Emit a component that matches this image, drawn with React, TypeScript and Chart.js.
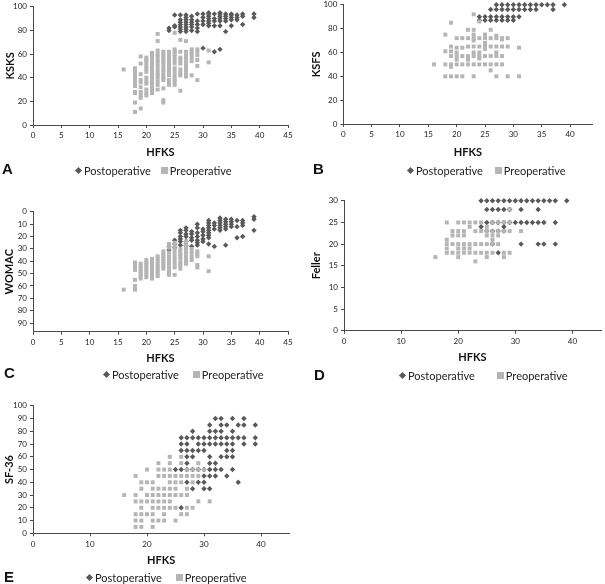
import React, { useEffect, useRef } from 'react';
import { Chart, registerables } from 'chart.js';

Chart.register(...registerables);

type Col = [number, number[]];

// ---------- DATA (HFKS x-value, list of y-values) ----------
const ksksPost: Col[] = [
  [24, [80, 82]],
  [25, [83, 84, 93]],
  [26, [79, 81, 83, 85, 87, 89, 93]],
  [27, [79, 81, 83, 85, 87, 89, 91, 93]],
  [28, [80, 83, 85, 87, 89, 92]],
  [29, [79, 82, 85, 88, 94]],
  [30, [65, 85, 88, 91, 94]],
  [31, [84, 86, 88, 90, 92, 94, 95]],
  [32, [62, 84, 88, 90, 94]],
  [33, [64, 84, 88, 90, 92, 94, 95]],
  [34, [79, 88, 90, 92, 94]],
  [35, [84, 89, 91, 93, 94]],
  [36, [89, 91, 93]],
  [37, [85, 92, 94]],
  [39, [91, 94]],
];
const ksksPre: Col[] = [
  [16, [47]],
  [18, [11, 19, 27, 28, 33, 35, 38, 40, 42, 44, 46, 48]],
  [19, [14, 23, 25, 28, 32, 36, 38, 43, 52, 58]],
  [20, [25, 27, 30, 35, 37, 40, 45, 48, 50, 53, 55, 57]],
  [21, [27, 29, 32, 35, 37, 40, 42, 45, 48, 50, 52, 55, 57, 59, 61]],
  [22, [30, 34, 37, 40, 42, 44, 47, 50, 53, 55, 58, 60, 63, 71, 77]],
  [23, [19, 21, 31, 38, 40, 42, 45, 47, 49, 52, 54, 56, 58, 60, 62]],
  [24, [34, 36, 38, 42, 45, 48, 50, 52, 55, 57, 60, 62]],
  [25, [34, 37, 39, 42, 45, 48, 52, 55, 58, 60, 62, 64, 78]],
  [26, [29, 42, 44, 47, 52, 55, 57, 62, 72]],
  [27, [41, 43, 46, 48, 50, 53, 56, 59, 62, 71]],
  [28, [42, 54, 57, 60, 62, 64]],
  [29, [38, 50, 55, 59, 62, 64]],
  [31, [53, 63]],
];

const ksfsPost: Col[] = [
  [24, [87, 90]],
  [25, [87, 90]],
  [26, [87, 90, 96]],
  [27, [87, 90, 96, 100]],
  [28, [87, 90, 96, 100]],
  [29, [87, 90, 96, 100]],
  [30, [87, 90, 96, 100]],
  [31, [90, 96, 100]],
  [32, [96, 100]],
  [33, [96, 100]],
  [34, [96, 100]],
  [35, [100]],
  [36, [100]],
  [37, [96, 100]],
  [39, [100]],
];
const ksfsPre: Col[] = [
  [16, [50]],
  [18, [40, 50, 61, 75]],
  [19, [40, 48, 50, 57, 61, 65, 85]],
  [20, [40, 50, 54, 57, 60, 64, 72]],
  [21, [40, 50, 57, 64, 72]],
  [22, [50, 54, 57, 65, 72, 79]],
  [23, [40, 50, 57, 60, 65, 70, 72, 75, 79, 92]],
  [24, [50, 55, 57, 60, 65, 72, 86]],
  [25, [50, 57, 63, 65, 68, 72, 75]],
  [26, [45, 50, 57, 65, 72, 79]],
  [27, [40, 50, 57, 60, 65, 72, 74]],
  [28, [50, 57, 65, 71, 72]],
  [29, [40, 65, 72]],
  [31, [40, 64]],
];

const womacPost: Col[] = [
  [24, [28, 31]],
  [25, [23, 26, 29]],
  [26, [15, 17, 20, 22, 24, 27]],
  [27, [13, 15, 18, 20, 24, 27]],
  [28, [16, 18, 21, 23, 28]],
  [29, [10, 13, 17, 20, 23, 25, 27]],
  [30, [14, 16, 19, 22, 24]],
  [31, [7, 9, 11, 13, 15, 17, 19, 21, 26]],
  [32, [9, 11, 14, 28]],
  [33, [5, 7, 9, 11, 13, 15]],
  [34, [6, 8, 10, 12, 14, 27]],
  [35, [6, 8, 10, 12]],
  [36, [7, 12, 21]],
  [37, [7, 9, 11, 20]],
  [39, [4, 6, 15]],
];
const womacPre: Col[] = [
  [16, [63]],
  [18, [41, 43, 45, 47, 55, 60, 63]],
  [19, [42, 44, 46, 48, 50, 52, 54]],
  [20, [39, 41, 43, 45, 47, 49, 51, 53]],
  [21, [38, 40, 42, 44, 46, 48, 50, 52, 54]],
  [22, [36, 38, 40, 42, 44, 46, 48, 50, 52]],
  [23, [32, 34, 36, 38, 40, 42, 44, 46]],
  [24, [26, 29, 33, 36, 39, 42, 45, 48, 51]],
  [25, [25, 27, 30, 33, 36, 39, 42, 45, 51]],
  [26, [30, 32, 34, 36, 38, 41, 43, 46]],
  [27, [24, 27, 30, 33, 36, 39, 42]],
  [28, [30, 33, 36, 39]],
  [29, [32, 34, 36, 43, 45]],
  [31, [36, 48]],
];

const fellerPost: Col[] = [
  [24, [24, 30]],
  [25, [23, 25, 28, 30]],
  [26, [20, 23, 25, 28, 30]],
  [27, [18, 23, 25, 28, 30]],
  [28, [23, 24, 25, 28, 30]],
  [29, [25, 28, 30]],
  [30, [25, 30]],
  [31, [20, 25, 28, 30]],
  [32, [25, 30]],
  [33, [25, 30]],
  [34, [20, 25, 28, 30]],
  [35, [20, 25, 30]],
  [36, [30]],
  [37, [20, 25, 30]],
  [39, [30]],
];
const fellerPre: Col[] = [
  [16, [17]],
  [18, [18, 19, 20, 21, 25]],
  [19, [18, 20, 22, 23]],
  [20, [17, 18, 19, 20, 22, 23, 25]],
  [21, [18, 19, 20, 22, 23, 25]],
  [22, [18, 19, 20, 24, 25]],
  [23, [16, 18, 20, 23, 25]],
  [24, [18, 20, 23, 25]],
  [25, [17, 18, 20, 22, 23, 24]],
  [26, [18, 20, 21, 22, 23, 25]],
  [27, [20, 22, 23, 25]],
  [28, [17, 18, 23, 25]],
  [29, [18, 23, 25, 28]],
  [31, [23]],
];

const sf36Post: Col[] = [
  [25, [50]],
  [26, [20, 50, 65, 70, 75]],
  [27, [40, 50, 55, 60, 65, 70, 75]],
  [28, [35, 50, 60, 65, 75, 80]],
  [29, [40, 50, 65, 70, 75]],
  [30, [35, 40, 45, 50, 65, 70, 75]],
  [31, [35, 45, 50, 55, 60, 70, 75, 80, 85]],
  [32, [45, 50, 55, 70, 75, 80, 90]],
  [33, [50, 60, 70, 75, 80, 85, 90]],
  [34, [45, 60, 65, 70, 75, 85]],
  [35, [50, 60, 65, 70, 75, 80, 90]],
  [36, [40, 75, 85]],
  [37, [70, 75, 85, 90]],
  [39, [70, 75, 85]],
];
const sf36Pre: Col[] = [
  [16, [30]],
  [18, [5, 10, 15, 25, 30, 45]],
  [19, [5, 10, 15, 20, 25, 35, 40]],
  [20, [15, 25, 30, 40, 50]],
  [21, [5, 10, 15, 20, 25, 30, 35, 40]],
  [22, [10, 20, 25, 30, 35, 45, 50, 55]],
  [23, [10, 15, 20, 25, 30, 35, 45, 50]],
  [24, [20, 25, 30, 35, 40, 45, 50, 55, 60]],
  [25, [10, 20, 30, 35, 40, 45]],
  [26, [15, 30, 40, 45, 55, 60]],
  [27, [15, 20, 30, 35, 45, 50]],
  [28, [20, 40, 45, 50]],
  [29, [25, 45, 50, 55]],
  [30, [50]],
  [31, [25]],
];

const seriesNames = ['Postoperative', 'Preoperative'];
const panelLetters = ['A', 'B', 'C', 'D', 'E'];
const yTitles = ['KSKS', 'KSFS', 'WOMAC', 'Feller', 'SF-36'];
const xTitle = 'HFKS';
// axis ranges
const xMaxes = [45, 44, 45, 45, 45];
const xSteps = [5, 5, 5, 10, 10];
const yMaxes = [100, 100, 97, 30, 100];
const ySteps = [10, 10, 10, 5, 10];

// ---------- STYLE / LAYOUT ----------
const POST_COLOR = '#595959';
const PRE_COLOR = '#b5b5b5';
const AXIS_COLOR = '#4a4a4a';
const FONT = 'Lato, "Open Sans", "Liberation Sans", sans-serif';

type Layout = {
  area: { l: number; t: number; r: number; b: number };
  yTitleX: number;
  xTitleY: number;
  right: number;
  legend: { x: number; y: number; gap: number };
  letter: { x: number; y: number };
};

const layouts: Layout[] = [
  { area: { l: 33, t: 5, r: 288, b: 125 }, yTitleX: 11, xTitleY: 152, right: 300,
    legend: { x: 76, y: 170, gap: 10 }, letter: { x: 2, y: 169 } },
  { area: { l: 343.3, t: 3.3, r: 592.7, b: 124 }, yTitleX: 317, xTitleY: 152, right: 605,
    legend: { x: 408, y: 170, gap: 12 }, letter: { x: 313, y: 169 } },
  { area: { l: 33, t: 210, r: 288, b: 331.7 }, yTitleX: 10, xTitleY: 358, right: 300,
    legend: { x: 104, y: 374, gap: 14 }, letter: { x: 4, y: 373 } },
  { area: { l: 344, t: 199.3, r: 603, b: 330.7 }, yTitleX: 317, xTitleY: 357, right: 605,
    legend: { x: 400, y: 375, gap: 22 }, letter: { x: 314, y: 375 } },
  { area: { l: 33, t: 404.3, r: 289.5, b: 533.3 }, yTitleX: 10, xTitleY: 560, right: 300,
    legend: { x: 87, y: 577, gap: 14 }, letter: { x: 4, y: 577 } },
];

const postData = [ksksPost, ksfsPost, womacPost, fellerPost, sf36Post];
const preData = [ksksPre, ksfsPre, womacPre, fellerPre, sf36Pre];

const flatten = (cols: Col[]) =>
  cols.flatMap(([x, ys]) => ys.map((y) => ({ x, y })));

const TITLE_FONT = 11;
const TITLE_HALF = (TITLE_FONT * 1.2) / 2;

function Panel({ idx }: { idx: number }) {
  const ref = useRef<HTMLCanvasElement | null>(null);
  const L = layouts[idx];
  const left = Math.round(L.yTitleX - TITLE_HALF - 4);
  const top = Math.floor(L.area.t - 6);
  const bottom = Math.round(L.xTitleY + TITLE_HALF + 2);
  const width = L.right - left;
  const height = bottom - top;
  const yAxisW = L.area.l - left;
  const xAxisH = bottom - L.area.b;
  const padTop = L.area.t - top;
  const padRight = L.right - L.area.r;

  useEffect(() => {
    if (!ref.current) return;
    const tickFont = { family: FONT, size: 8 };
    const titleFont = { family: FONT, size: TITLE_FONT, weight: 'bold' as const };
    const chart = new Chart(ref.current, {
      type: 'scatter',
      data: {
        datasets: [
          {
            label: seriesNames[1],
            data: flatten(preData[idx]),
            pointStyle: 'rect',
            pointRadius: 2.8,
            backgroundColor: PRE_COLOR,
            borderColor: PRE_COLOR,
            borderWidth: 0,
            clip: false,
          },
          {
            label: seriesNames[0],
            data: flatten(postData[idx]),
            pointStyle: 'rectRot',
            pointRadius: 2.7,
            backgroundColor: POST_COLOR,
            borderColor: POST_COLOR,
            borderWidth: 0,
            clip: false,
          },
        ],
      },
      options: {
        animation: false,
        responsive: false,
        maintainAspectRatio: false,
        events: [],
        layout: { padding: { left: 0, top: padTop, right: padRight, bottom: 0 } },
        plugins: { legend: { display: false }, tooltip: { enabled: false } },
        scales: {
          x: {
            type: 'linear',
            min: 0,
            max: xMaxes[idx],
            afterFit: (s: any) => { s.height = xAxisH; },
            ticks: {
              stepSize: xSteps[idx],
              includeBounds: false,
              font: tickFont,
              color: '#222',
              padding: 3,
              maxRotation: 0,
            },
            grid: { display: true, drawOnChartArea: false, drawTicks: true, tickLength: 3, color: AXIS_COLOR },
            border: { display: true, color: AXIS_COLOR, width: 1 },
            title: { display: true, text: xTitle, font: titleFont, color: '#111', padding: { top: 0, bottom: 2 } },
          },
          y: {
            type: 'linear',
            min: 0,
            max: yMaxes[idx],
            reverse: idx === 2,
            afterFit: (s: any) => { s.width = yAxisW; },
            ticks: {
              stepSize: ySteps[idx],
              includeBounds: false,
              font: tickFont,
              color: '#222',
              padding: 3,
            },
            grid: { display: true, drawOnChartArea: false, drawTicks: true, tickLength: 3, color: AXIS_COLOR },
            border: { display: true, color: AXIS_COLOR, width: 1 },
            title: { display: true, text: yTitles[idx], font: titleFont, color: '#111', padding: { top: 4, bottom: 0 } },
          },
        },
      },
    });
    return () => chart.destroy();
  }, [idx]);

  const legendStyle: React.CSSProperties = {
    position: 'absolute',
    left: L.legend.x,
    top: L.legend.y - 7,
    height: 14,
    display: 'flex',
    alignItems: 'center',
    fontFamily: FONT,
    fontSize: 11,
    color: '#222',
    whiteSpace: 'nowrap',
  };

  return (
    <>
      <canvas
        ref={ref}
        width={width}
        height={height}
        style={{ position: 'absolute', left, top, width, height }}
      />
      <div
        style={{
          position: 'absolute',
          left: L.letter.x,
          top: L.letter.y - 9,
          fontFamily: '"Liberation Sans", Arial, sans-serif',
          fontWeight: 'bold',
          fontSize: 15,
          lineHeight: '18px',
          color: '#111',
        }}
      >
        {panelLetters[idx]}
      </div>
      <div style={legendStyle}>
        <span
          style={{
            display: 'inline-block',
            width: 5,
            height: 5,
            background: POST_COLOR,
            transform: 'rotate(45deg)',
            marginRight: 3,
          }}
        />
        <span>{seriesNames[0]}</span>
        <span
          style={{
            display: 'inline-block',
            width: 7,
            height: 7,
            background: PRE_COLOR,
            marginLeft: L.legend.gap,
            marginRight: 2,
          }}
        />
        <span>{seriesNames[1]}</span>
      </div>
    </>
  );
}

export default function App() {
  return (
    <div
      style={{
        position: 'absolute',
        left: 0,
        top: 0,
        width: 605,
        height: 584,
        overflow: 'hidden',
        background: '#fff',
      }}
    >
      {layouts.map((_, i) => (
        <Panel key={i} idx={i} />
      ))}
    </div>
  );
}
